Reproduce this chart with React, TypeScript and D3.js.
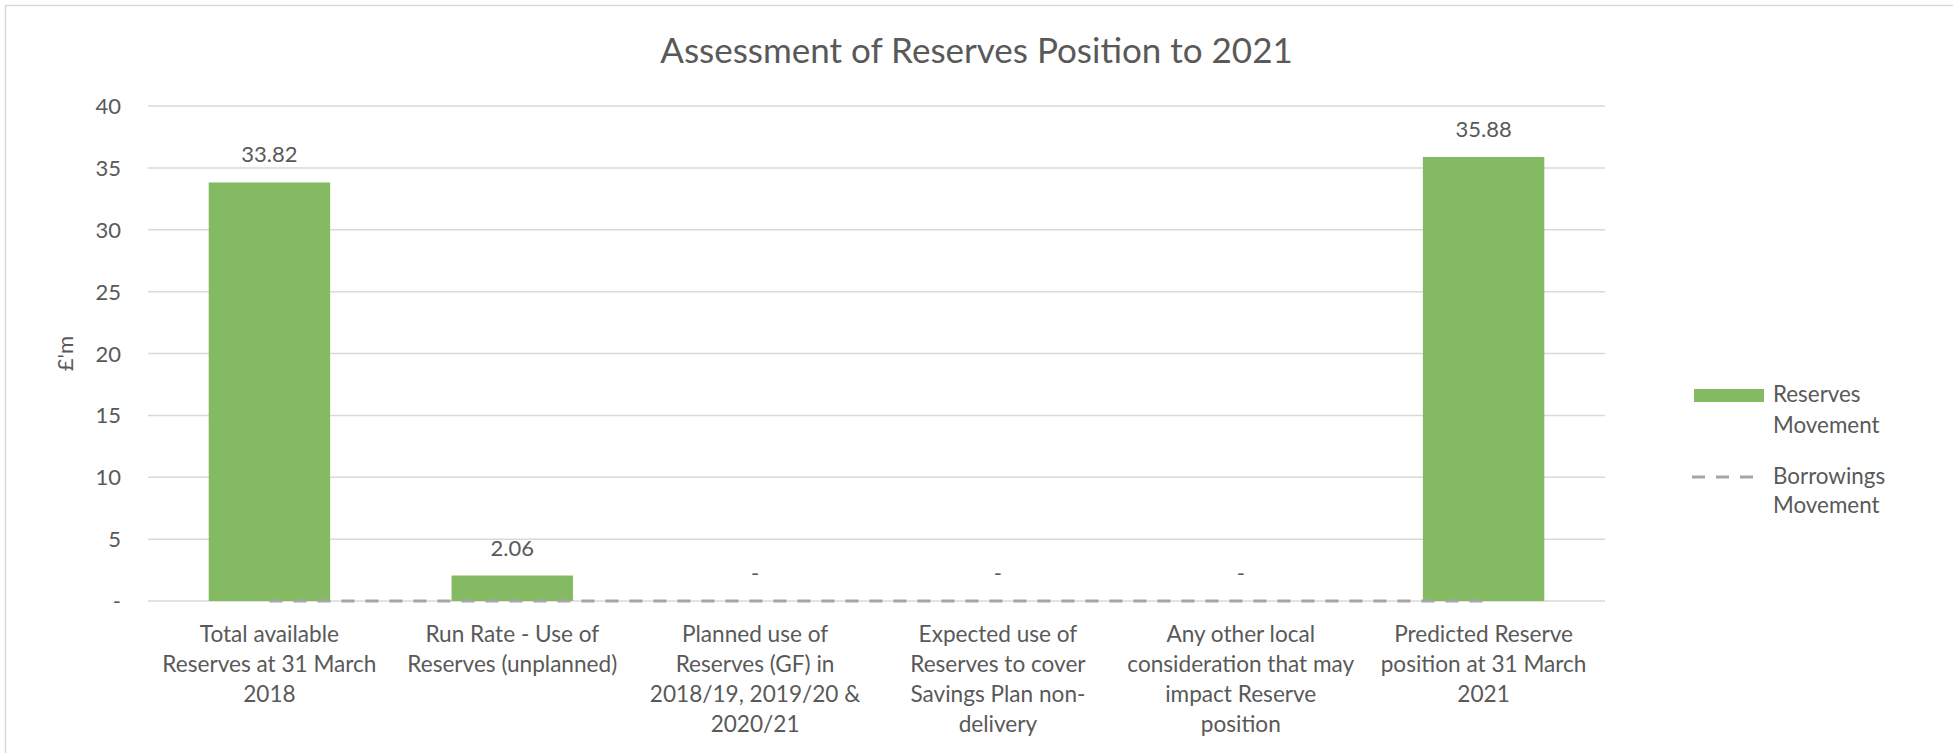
import React from "react";
import * as d3 from "d3";

const title = "Assessment of Reserves Position to 2021";
const categories: string[][] = [
  ["Total available", "Reserves at 31 March", "2018"],
  ["Run Rate - Use of", "Reserves (unplanned)"],
  ["Planned use of", "Reserves (GF) in", "2018/19, 2019/20 &", "2020/21"],
  ["Expected use of", "Reserves to cover", "Savings Plan non-", "delivery"],
  ["Any other local", "consideration that may", "impact Reserve", "position"],
  ["Predicted Reserve", "position at 31 March", "2021"],
];
const reservesMovement = [33.82, 2.06, 0, 0, 0, 35.88];
const borrowingsMovement = [0, 0, 0, 0, 0, 0];
const yTicks = [0, 5, 10, 15, 20, 25, 30, 35, 40];
const yAxisTitle = "£'m";
const legendLabels = [["Reserves", "Movement"], ["Borrowings", "Movement"]];

const W = 1953;
const H = 753;
const FONT = "Lato, 'Open Sans', sans-serif";
const TEXT = "#595959";
const GREEN = "#84BA62";
const GRID = "#D9D9D9";
const DASH = "#A5A5A5";

export default function App() {
  const plot = { left: 148, right: 1605, top: 106, bottom: 601 };
  const idx = categories.map((_, i) => String(i));
  const x = d3.scaleBand<string>().domain(idx).range([plot.left, plot.right]).paddingInner(0.5).paddingOuter(0.25);
  const y = d3.scaleLinear().domain([0, 40]).range([plot.bottom, plot.top]);
  const center = (i: number) => (x(String(i)) as number) + x.bandwidth() / 2;
  const line = d3
    .line<number>()
    .x((_, i) => center(i))
    .y((d) => y(d));
  const fmt = (v: number) => (v === 0 ? "-" : v.toFixed(2));

  return (
    <svg
      width={W}
      height={H}
      style={{ position: "absolute", left: 0, top: 0, background: "#fff" }}
      fontFamily={FONT}
    >
      <rect x={5.5} y={5.5} width={W + 20} height={H + 20} fill="#fff" stroke={GRID} strokeWidth={1.5} />
      <text x={W / 2} y={63} textAnchor="middle" fontSize={35} fill={TEXT}>
        {title}
      </text>
      {yTicks.map((t) => (
        <g key={t}>
          <line x1={plot.left} x2={plot.right} y1={y(t)} y2={y(t)} stroke={GRID} strokeWidth={1.5} />
          <text x={121} y={y(t) + 8} textAnchor="end" fontSize={22} fill={TEXT}>
            {t === 0 ? "-" : String(t)}
          </text>
        </g>
      ))}
      <text
        transform={`translate(73,${(plot.top + plot.bottom) / 2}) rotate(-90)`}
        textAnchor="middle"
        fontSize={22}
        fill={TEXT}
      >
        {yAxisTitle}
      </text>
      {reservesMovement.map((v, i) => (
        <rect
          key={i}
          x={x(String(i))}
          y={y(v)}
          width={x.bandwidth()}
          height={y(0) - y(v)}
          fill={GREEN}
        />
      ))}
      <path d={line(borrowingsMovement) || ""} fill="none" stroke={DASH} strokeWidth={3} strokeDasharray="13 11" />
      {reservesMovement.map((v, i) => (
        <text key={i} x={center(i)} y={y(v) - 20} textAnchor="middle" fontSize={22} fill={TEXT}>
          {fmt(v)}
        </text>
      ))}
      {categories.map((lines, i) => (
        <text key={i} x={center(i)} y={642} textAnchor="middle" fontSize={22.6} fill={TEXT}>
          {lines.map((l, j) => (
            <tspan key={j} x={center(i)} dy={j === 0 ? 0 : 30}>
              {l}
            </tspan>
          ))}
        </text>
      ))}
      <g>
        <rect x={1694} y={389} width={70} height={13} fill={GREEN} />
        <text x={1773} y={402} fontSize={22.4} fill={TEXT}>
          <tspan x={1773}>{legendLabels[0][0]}</tspan>
          <tspan x={1773} dy={31}>{legendLabels[0][1]}</tspan>
        </text>
        <line x1={1692} x2={1756} y1={477} y2={477} stroke={DASH} strokeWidth={3} strokeDasharray="13 11" />
        <text x={1773} y={484} fontSize={22.4} fill={TEXT}>
          <tspan x={1773}>{legendLabels[1][0]}</tspan>
          <tspan x={1773} dy={29}>{legendLabels[1][1]}</tspan>
        </text>
      </g>
    </svg>
  );
}
